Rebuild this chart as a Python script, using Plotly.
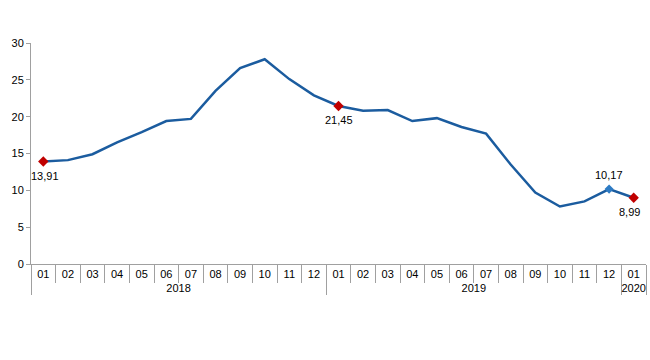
import plotly.graph_objects as go

months = ["01","02","03","04","05","06","07","08","09","10","11","12",
          "01","02","03","04","05","06","07","08","09","10","11","12","01"]
years = ["2018"]*12 + ["2019"]*12 + ["2020"]
values = [13.91, 14.1, 14.9, 16.5, 17.9, 19.4, 19.7, 23.5, 26.6, 27.8, 25.1, 22.9,
          21.45, 20.8, 20.9, 19.4, 19.8, 18.6, 17.7, 13.5, 9.7, 7.8, 8.5, 10.17, 8.99]

red_idx = [0, 12, 24]
blue_idx = [23]
label_text = {0: "13,91", 12: "21,45", 23: "10,17", 24: "8,99"}

line_color = "#1B5C9F"
red = "#C00000"

fig = go.Figure()
fig.add_trace(go.Scatter(x=[years, months], y=values, mode="lines",
                         line=dict(color=line_color, width=2.5), hoverinfo="skip"))
fig.add_trace(go.Scatter(x=[[years[i] for i in red_idx], [months[i] for i in red_idx]],
                         y=[values[i] for i in red_idx], mode="markers",
                         marker=dict(symbol="diamond", size=8, color=red)))
fig.add_trace(go.Scatter(x=[[years[i] for i in blue_idx], [months[i] for i in blue_idx]],
                         y=[values[i] for i in blue_idx], mode="markers",
                         marker=dict(symbol="diamond", size=7, color="#2E7BC4")))

for i, t in label_text.items():
    above = (i == 23)
    fig.add_annotation(x=i, y=values[i], xref="x", yref="y", text=t, showarrow=False,
                       yshift=(14 if above else -14), xshift=(2 if i == 0 else (-4 if i == 24 else 0)),
                       font=dict(size=11, color="#000000", family="Liberation Sans, Arial"))

fig.update_layout(
    width=650, height=360,
    margin=dict(l=31, r=4, t=43, b=96),
    paper_bgcolor="white", plot_bgcolor="white",
    showlegend=False,
    font=dict(family="Liberation Sans, Arial", size=11, color="#000000"),
)
fig.update_xaxes(type="multicategory", range=[-0.5, len(values) - 0.5], automargin=False,
                 showline=True, linecolor="#A0A0A0", linewidth=1,
                 ticks="outside", tickson="boundaries", ticklen=18, tickcolor="#A0A0A0",
                 showdividers=True, dividercolor="#A0A0A0", dividerwidth=1,
                 showgrid=False, tickfont=dict(size=11))
fig.update_yaxes(range=[0, 30], dtick=5, automargin=False,
                 showline=True, linecolor="#A0A0A0", linewidth=1,
                 ticks="outside", ticklen=4, tickcolor="#A0A0A0", showgrid=False,
                 zeroline=False, tickfont=dict(size=11))

fig.write_html("out.html", config={"displayModeBar": False},
               post_script="document.body.style.margin='0';document.body.style.overflow='hidden';")
